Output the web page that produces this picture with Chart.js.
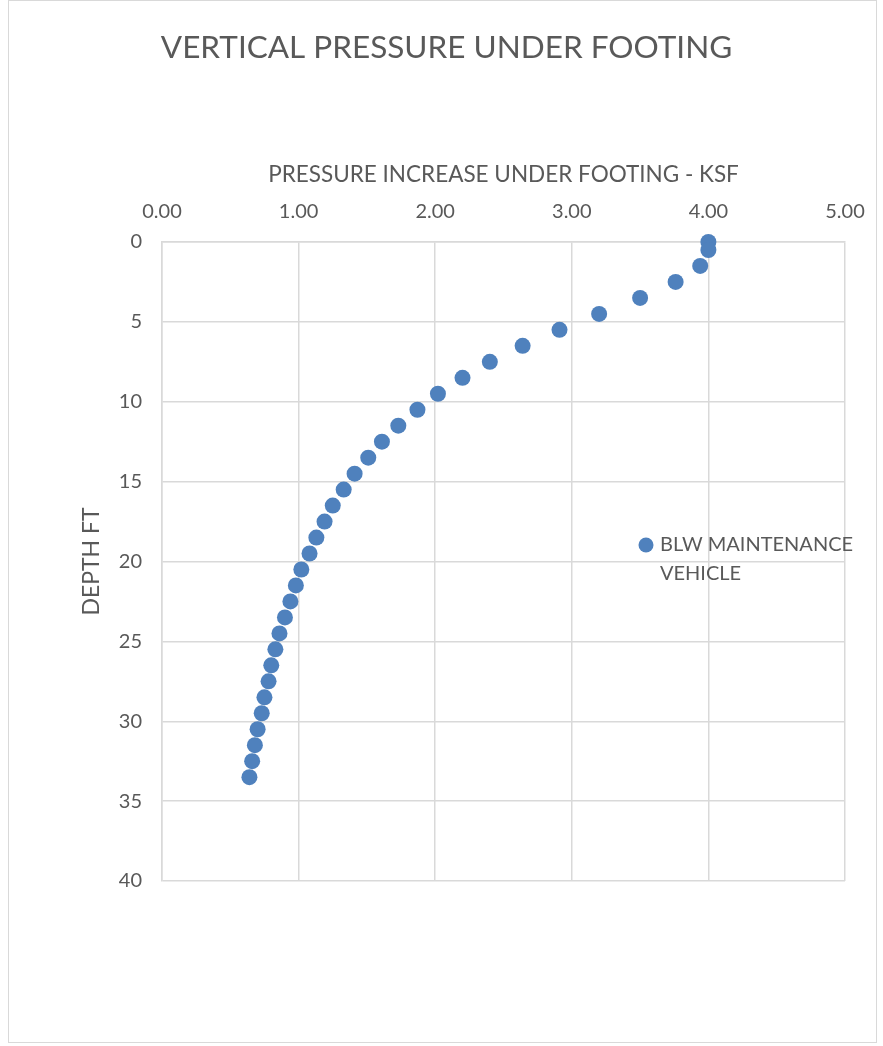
<!DOCTYPE html>
<html>
<head>
<meta charset="utf-8">
<script src="https://cdn.jsdelivr.net/npm/chart.js@4/dist/chart.umd.min.js"></script>
<style>
  html, body { margin: 0; padding: 0; background: #fff; }
  canvas { display: block; }
</style>
</head>
<body>
<canvas id="pressureChart" width="883" height="1046"></canvas>
<script>
// depth below footing (ft) and pressure increase (ksf)
const depths = [0, 0.5, 1.5, 2.5, 3.5, 4.5, 5.5, 6.5, 7.5, 8.5, 9.5, 10.5, 11.5, 12.5, 13.5, 14.5,
    15.5, 16.5, 17.5, 18.5, 19.5, 20.5, 21.5, 22.5, 23.5, 24.5, 25.5, 26.5, 27.5, 28.5, 29.5,
    30.5, 31.5, 32.5, 33.5];
const pressures = [4.00, 4.00, 3.94, 3.76, 3.50, 3.20, 2.91, 2.64, 2.40, 2.20, 2.02, 1.87, 1.73,
    1.61, 1.51, 1.41, 1.33, 1.25, 1.19, 1.13, 1.08, 1.02, 0.98, 0.94, 0.90, 0.86, 0.83, 0.80,
    0.78, 0.75, 0.73, 0.70, 0.68, 0.66, 0.64];
const seriesName = ['BLW MAINTENANCE', 'VEHICLE'];
const chartTitle = 'VERTICAL PRESSURE UNDER FOOTING';

const textColor = '#595959';
const gridColor = '#d9d9d9';
const dotColor = '#4f81bd';
const fontFamily = 'Lato, "Open Sans", sans-serif';

const points = depths.map((d, i) => ({ x: pressures[i], y: d }));

// outer frame, main title and legend (legend sits over the plot like the excel chart)
const decorations = {
    id: 'decorations',
    beforeDraw(chart) {
        const c = chart.ctx;
        c.save();
        c.strokeStyle = gridColor;
        c.lineWidth = 1;
        c.strokeRect(8.5, 0.5, 868, 1042);
        c.fillStyle = textColor;
        c.font = '31.5px ' + fontFamily;
        c.textAlign = 'center';
        c.textBaseline = 'middle';
        c.fillText(chartTitle, 446.5, 48);
        c.restore();
    },
    afterDatasetsDraw(chart) {
        const c = chart.ctx;
        c.save();
        c.fillStyle = dotColor;
        c.beginPath();
        c.arc(646, 545, 7.5, 0, Math.PI * 2);
        c.fill();
        c.fillStyle = textColor;
        c.font = '20px ' + fontFamily;
        c.textBaseline = 'middle';
        c.textAlign = 'left';
        c.fillText(seriesName[0], 660, 545);
        c.fillText(seriesName[1], 660, 574);
        c.restore();
    }
};

const ctx = document.getElementById('pressureChart').getContext('2d');
const pressureChart = new Chart(ctx, {
    type: 'scatter',
    data: {
        datasets: [{
            label: seriesName.join(' '),
            data: points,
            backgroundColor: dotColor,
            borderColor: dotColor,
            pointRadius: 8,
            pointHoverRadius: 8,
            borderWidth: 0,
            clip: false,
        }]
    },
    options: {
        responsive: false,
        animation: false,
        layout: {
            padding: { top: 68.4, left: 0, right: 38, bottom: 165 }
        },
        scales: {
            x: {
                type: 'linear',
                position: 'top',
                min: 0,
                max: 5,
                ticks: {
                    stepSize: 1,
                    padding: 18,
                    color: textColor,
                    font: { size: 20, family: fontFamily },
                    callback: function (value) {
                        return value.toFixed(2);
                    }
                },
                grid: { color: gridColor, lineWidth: 1.5, drawTicks: false },
                border: { color: gridColor, width: 1.5 },
                title: {
                    display: true,
                    text: 'PRESSURE INCREASE UNDER FOOTING - KSF',
                    color: textColor,
                    font: { size: 22.5, family: fontFamily },
                    padding: { top: 93, bottom: 0 }
                },
                afterFit: function (scale) {
                    scale.height = 173.6;
                }
            },
            y: {
                type: 'linear',
                reverse: true,
                min: 0,
                max: 40,
                ticks: {
                    stepSize: 5,
                    padding: 20,
                    color: textColor,
                    font: { size: 20, family: fontFamily }
                },
                grid: { color: gridColor, lineWidth: 1.5, drawTicks: false },
                border: { color: gridColor, width: 1.5 },
                title: {
                    display: true,
                    text: 'DEPTH FT',
                    color: textColor,
                    font: { size: 23, family: fontFamily },
                    padding: { top: 78, bottom: 0 }
                },
                afterFit: function (scale) {
                    scale.width = 162;
                }
            }
        },
        plugins: {
            legend: { display: false },
            tooltip: { enabled: false },
            title: { display: false }
        }
    },
    plugins: [decorations]
});
</script>
</body>
</html>
